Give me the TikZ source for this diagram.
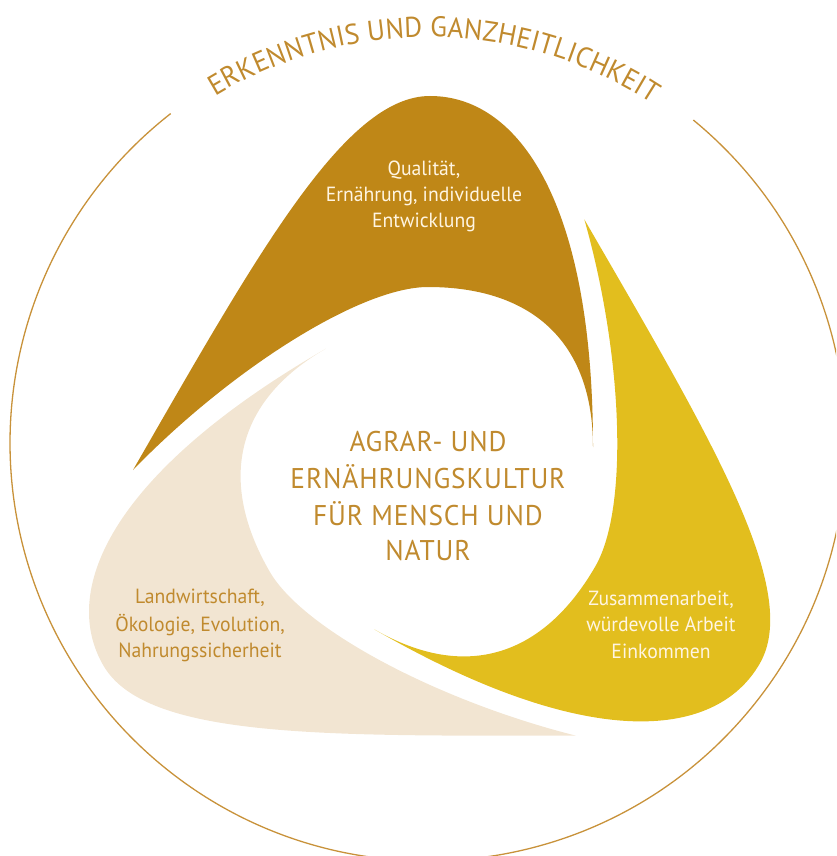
\documentclass[tikz,border=0pt]{standalone}
\usepackage{fontspec}
\setmainfont{PT Sans}[FakeStretch=0.96]
\usetikzlibrary{decorations.text}
\definecolor{gold}{HTML}{BF8717}
\definecolor{yel}{HTML}{E2BE1E}
\definecolor{beige}{HTML}{F2E5D2}
\definecolor{txtgold}{HTML}{C08A2E}
\definecolor{cream}{HTML}{FFF5E2}
\definecolor{ring}{HTML}{C8923A}
\tikzset{
  bodytxt/.style={font=\fontsize{20.5}{20.5}\selectfont, anchor=base, inner sep=0pt},
  centertxt/.style={font=\fontsize{28.5}{28.5}\selectfont\addfontfeatures{LetterSpace=3}, anchor=base, inner sep=0pt, text=txtgold},
}
\begin{document}
\begin{tikzpicture}[x=1pt,y=-1pt]
\useasboundingbox (0,0) rectangle (836,856);
\clip (0,0) rectangle (836,856);
\coordinate (C) at (431,475);
\coordinate (O) at (428,443);
\def\petal{(133,470) .. controls (258,253) and (345,96) .. (430,96)
  .. controls (520,96) and (593,205) .. (593,447)
  .. controls (593,340) and (530,287) .. (428,287)
  .. controls (360,287) and (230,370) .. (133,470) -- cycle}
\fill[gold] \petal;
\fill[yel, rotate around={-120:(C)}] \petal;
\fill[beige, rotate around={120:(C)}] \petal;
% outer ring
\draw[ring, line width=1.3pt] (O) ++(-50.6:418) arc[start angle=-50.6, end angle=232, radius=418];
% title on arc
\coordinate (T) at (428,448);
\path[decorate, decoration={text along path, text align=fit to path,
  text={|\fontsize{28.5}{28.5}\selectfont\color{txtgold}|ERKENNTNIS UND GANZHEITLICHKEIT}}]
  (T) ++(-121.2:411) arc[start angle=-121.2, end angle=-57, radius=411];
% texts
\node[bodytxt, text=cream] (q1) at (424,175) {Qualität,};
\node[bodytxt, text=cream] (q2) at (424,201.5) {Ernährung, individuelle};
\node[bodytxt, text=cream] (q3) at (424,227.5) {Entwicklung};
\node[bodytxt, text=cream] (z1) at (661,605) {Zusammenarbeit,};
\node[bodytxt, text=cream] (z2) at (661,631.5) {würdevolle Arbeit};
\node[bodytxt, text=cream] (z3) at (661,658) {Einkommen};
\node[bodytxt, text=txtgold] (l1) at (200,603.5) {Landwirtschaft,};
\node[bodytxt, text=txtgold] (l2) at (200,631.5) {Ökologie, Evolution,};
\node[bodytxt, text=txtgold] (l3) at (200,657.5) {Nahrungssicherheit};
\node[centertxt] (c1) at (428,451.5) {AGRAR- UND};
\node[centertxt] (c2) at (428,488.3) {ERNÄHRUNGSKULTUR};
\node[centertxt] (c3) at (428,525) {FÜR MENSCH UND};
\node[centertxt] (c4) at (428,560) {NATUR};
\end{tikzpicture}
\end{document}
